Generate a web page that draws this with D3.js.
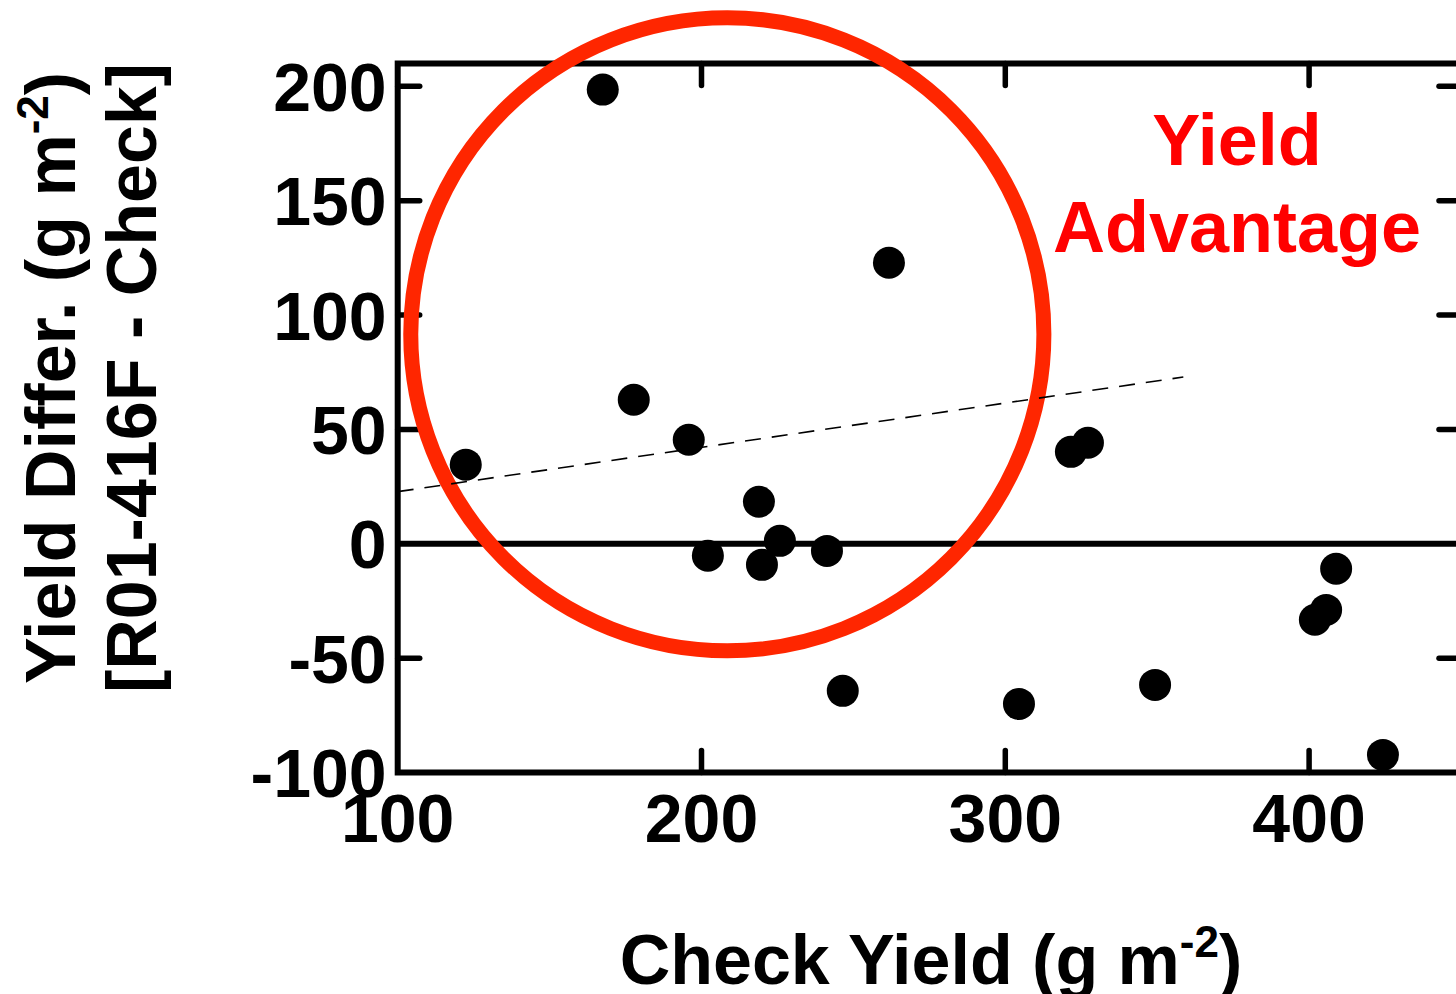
<!DOCTYPE html>
<html>
<head>
<meta charset="utf-8">
<script src="https://cdn.jsdelivr.net/npm/d3@7"></script>
<style>
  html, body { margin: 0; padding: 0; background: #fff; }
  svg { display: block; }
  text { font-family: "Liberation Sans", Arial, Helvetica, sans-serif; font-weight: bold; }
</style>
</head>
<body>
<svg id="chart" width="1456" height="994"></svg>
<script>
// Check yield (g m-2) for each site-year
const checkYield = [122.4, 167.5, 177.7, 195.8, 202.1, 218.9, 219.9, 225.8, 241.3, 246.5,
                    261.7, 304.5, 321.6, 327.2, 349.3, 401.9, 405.6, 408.9, 424.3];
// Yield difference, R01-416F minus check (g m-2)
const yieldDiff  = [34.6, 198.6, 63.0, 45.5, -5.2, 18.4, -9.2, 1.3, -3.1, -64.3,
                    122.9, -70.0, 40.2, 44.2, -61.7, -33.2, -28.9, -10.9, -92.3];

// Fitted trend line (endpoints in data units)
const trendX = [100, 358.6];
const trendY = [22.8, 72.9];

// Highlighted region: centre in data units, radius in x units
const zoneCentre = [208.5, 91.6];
const zoneRadiusX = 104.2;

const xDomain = [100, 450];
const yDomain = [-100, 210];
const xTicks = [100, 200, 300, 400];
const yTicks = [-100, -50, 0, 50, 100, 150, 200];

const svg = d3.select("#chart");
const plotL = 397.7, plotR = 1461, plotT = 63.5, plotB = 772.5;

const x = d3.scaleLinear().domain(xDomain).range([plotL, plotR]);
const y = d3.scaleLinear().domain(yDomain).range([plotB, plotT]);

const axisW = 6, tickLen = 22, fontSize = 68, titleSize = 70;

// Frame
svg.append("path")
  .attr("d", `M${plotR},${plotT}H${plotL}V${plotB}H${plotR}`)
  .attr("fill", "none")
  .attr("stroke", "#000")
  .attr("stroke-width", axisW)
  .attr("stroke-linejoin", "miter");

// Ticks: left and right (pointing inward)
const tickG = svg.append("g").attr("stroke", "#000").attr("stroke-width", 5.5).attr("stroke-linecap", "round");
yTicks.filter(v => v > yDomain[0] && v !== 0).forEach(v => {
  tickG.append("line").attr("x1", plotL).attr("x2", plotL + tickLen).attr("y1", y(v)).attr("y2", y(v));
  tickG.append("line").attr("x1", plotR).attr("x2", plotR - tickLen).attr("y1", y(v)).attr("y2", y(v));
});
// Ticks: top and bottom
xTicks.filter(v => v > xDomain[0]).forEach(v => {
  tickG.append("line").attr("x1", x(v)).attr("x2", x(v)).attr("y1", plotT).attr("y2", plotT + tickLen);
  tickG.append("line").attr("x1", x(v)).attr("x2", x(v)).attr("y1", plotB).attr("y2", plotB - tickLen);
});

// Zero reference line
svg.append("line")
  .attr("x1", plotL).attr("x2", plotR)
  .attr("y1", y(0)).attr("y2", y(0))
  .attr("stroke", "#000").attr("stroke-width", axisW);

// Tick labels (plain hyphen for negatives)
const yLab = svg.append("g").attr("font-size", fontSize).attr("text-anchor", "end").attr("fill", "#000");
yTicks.forEach(v => {
  yLab.append("text")
    .attr("x", plotL - 11)
    .attr("y", y(v))
    .attr("dy", "0.36em")
    .text(String(v));
});
const xLab = svg.append("g").attr("font-size", fontSize).attr("text-anchor", "middle").attr("fill", "#000");
xTicks.forEach(v => {
  xLab.append("text")
    .attr("x", x(v))
    .attr("y", 842)
    .text(String(v));
});

// Highlight circle
const zoneR = x(zoneCentre[0] + zoneRadiusX) - x(zoneCentre[0]);
svg.append("circle")
  .attr("cx", x(zoneCentre[0]))
  .attr("cy", y(zoneCentre[1]))
  .attr("r", zoneR)
  .attr("fill", "none")
  .attr("stroke", "#ff2600")
  .attr("stroke-width", 15);

// Trend line
svg.append("line")
  .attr("x1", x(trendX[0])).attr("y1", y(trendY[0]))
  .attr("x2", x(trendX[1])).attr("y2", y(trendY[1]))
  .attr("stroke", "#000")
  .attr("stroke-width", 1.6)
  .attr("stroke-dasharray", "16,11");

// Data points
svg.append("g").selectAll("circle")
  .data(checkYield.map((v, i) => [v, yieldDiff[i]]))
  .join("circle")
  .attr("cx", d => x(d[0]))
  .attr("cy", d => y(d[1]))
  .attr("r", 16)
  .attr("fill", "#000");

// Annotation
const ann = svg.append("g").attr("fill", "#ff0000").attr("font-size", 72).attr("text-anchor", "middle");
ann.append("text").attr("x", 1237).attr("y", 165).text("Yield");
ann.append("text").attr("x", 1237).attr("y", 252).text("Advantage");

// X axis title
const xt = svg.append("text")
  .attr("x", 931).attr("y", 984)
  .attr("font-size", titleSize).attr("text-anchor", "middle").attr("fill", "#000");
xt.append("tspan").text("Check Yield (g m");
xt.append("tspan").attr("font-size", 44).attr("dy", -27).text("-2");
xt.append("tspan").attr("dy", 27).text(")");

// Y axis title (two rotated lines)
const yt = svg.append("g").attr("font-size", titleSize).attr("text-anchor", "middle").attr("fill", "#000");
const l1 = yt.append("text").attr("transform", "translate(75,378) rotate(-90)");
l1.append("tspan").text("Yield Differ. (g m");
l1.append("tspan").attr("font-size", 44).attr("dy", -27).text("-2");
l1.append("tspan").attr("dy", 27).text(")");
yt.append("text").attr("transform", "translate(156,378) rotate(-90)").text("[R01-416F - Check]");
</script>
</body>
</html>
